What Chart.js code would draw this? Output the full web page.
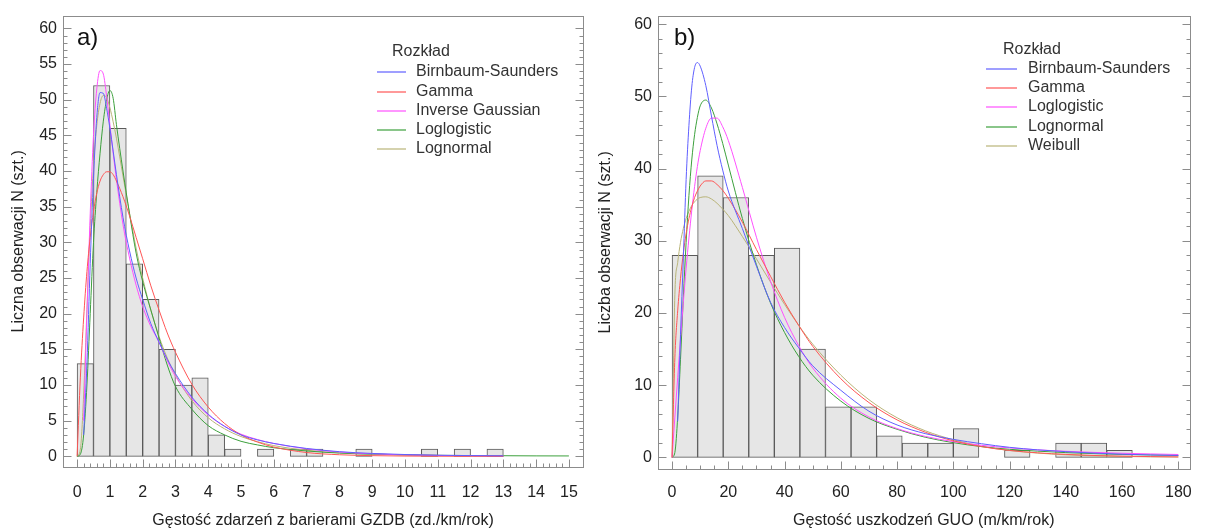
<!DOCTYPE html>
<html>
<head>
<meta charset="utf-8">
<script src="https://cdn.jsdelivr.net/npm/chart.js@4.4.0/dist/chart.umd.min.js"></script>
<style>
  body { margin: 0; background: #fff; width: 1206px; height: 531px; overflow: hidden; position: relative; }
  canvas { position: absolute; top: 0; }
  #chartA { left: 0; }
  #chartB { left: 596px; }
</style>
</head>
<body>
<canvas id="chartA" width="596" height="531"></canvas>
<canvas id="chartB" width="610" height="531"></canvas>
<script>
"use strict";

// ---------- a) GZDB ----------
var binStartA = [0, 0.5, 1, 1.5, 2, 2.5, 3, 3.5, 4, 4.5, 5, 5.5, 6, 6.5, 7, 7.5, 8, 8.5, 9, 9.5, 10, 10.5, 11, 11.5, 12, 12.5];
var binWidthA = 0.5;
var countsA = [13, 52, 46, 27, 22, 15, 10, 11, 3, 1, 0, 1, 0, 1, 1, 0, 0, 1, 0, 0, 0, 1, 0, 1, 0, 1];

var xFitA = [0, 0.1, 0.2, 0.3, 0.4, 0.5, 0.6, 0.7, 0.8, 0.9, 1.0, 1.1, 1.2, 1.4, 1.6, 1.8, 2.0, 2.25, 2.5, 2.75, 3.0, 3.5, 4.0, 4.5, 5, 5.5, 6, 7, 8, 9, 10, 11, 12, 13, 14, 15];
var birnbaumA = [null, null, 3, 13, 27, 39, 47.5, 51, 50.9, 48.8, 46, 42.8, 39.5, 33.5, 28.8, 25, 22, 18.6, 16.0, 13.6, 11.6, 8.3, 5.9, 4.2, 3.0, 2.3, 1.8, 1.1, 0.65, 0.4, 0.25, 0.15, 0.1, 0.06, null, null];
var gammaA = [0, 11.1, 19.4, 25.9, 30.7, 34.3, 36.9, 38.6, 39.5, 39.9, 39.9, 39.5, 38.6, 36.4, 33.7, 30.7, 27.7, 23.9, 20.5, 17.3, 14.6, 10.1, 6.9, 4.6, 3.0, 2.0, 1.3, 0.53, 0.22, 0.09, 0.035, 0.014, 0.005, 0.002, null, null];
var invGaussA = [null, null, 5, 20, 34, 45, 51.5, 54.1, 53.6, 50.5, 46.5, 42.5, 38.8, 32.5, 27.8, 24, 21, 18.2, 16.0, 13.4, 11.2, 8.1, 5.8, 4.2, 3.1, 2.35, 1.8, 1.05, 0.6, 0.35, 0.2, 0.12, 0.07, 0.04, null, null];
var loglogA = [0, 0.3, 3, 10, 20, 30, 37, 42.5, 47, 50, 51.3, 50.2, 46.5, 40, 34, 28.5, 24.5, 20.5, 16.6, 12.8, 9.8, 6.6, 4.3, 3.0, 2.1, 1.6, 1.2, 0.75, 0.45, 0.3, 0.2, 0.14, 0.1, 0.08, 0.06, 0.05];
var lognormA = [0, 1.0, 8.6, 20.6, 32.1, 40.8, 46.4, 49.5, 50.6, 50.3, 48.9, 46.9, 44.6, 39.3, 34.1, 29.2, 25.0, 20.5, 16.8, 13.8, 11.4, 7.8, 5.4, 3.85, 2.77, 2.05, 1.5, 0.85, 0.5, 0.31, 0.19, 0.12, 0.08, 0.05, null, null];
var xTicksA = [0, 1, 2, 3, 4, 5, 6, 7, 8, 9, 10, 11, 12, 13, 14, 15];
var yTicksA = [0, 5, 10, 15, 20, 25, 30, 35, 40, 45, 50, 55, 60];

// ---------- b) GUO ----------
var binStartB = [0, 9.09, 18.18, 27.27, 36.36, 45.45, 54.55, 63.64, 72.73, 81.82, 90.91, 100, 109.09, 118.18, 127.27, 136.36, 145.45, 154.55];
var binWidthB = 9.09;
var countsB = [28, 39, 36, 28, 29, 15, 7, 7, 3, 2, 2, 4, 0, 1, 0, 2, 2, 1];

var xFitB = [0, 1, 2, 3, 4, 5, 6, 7, 8, 9, 10, 12, 14, 16, 18, 20, 25, 30, 35, 40, 45, 50, 60, 70, 80, 90, 100, 110, 120, 130, 140, 150, 160, 170, 180];
var birnbaumB = [null, null, 5, 17, 27.5, 38.5, 46, 51.3, 54, 54.7, 54.2, 51.5, 47.3, 43.2, 39.8, 36.9, 31.7, 26.5, 21.5, 18.0, 15.2, 12.7, 9.3, 6.4, 4.5, 3.3, 2.5, 1.9, 1.4, 1.05, 0.8, 0.6, 0.45, 0.35, 0.28];
var gammaB = [0, 13.8, 20.3, 24.8, 28.3, 31.0, 33.1, 34.7, 36.0, 36.9, 37.6, 38.3, 38.3, 37.8, 37.0, 35.9, 32.6, 28.8, 25.1, 21.5, 18.3, 15.4, 10.9, 7.6, 5.2, 3.5, 2.3, 1.5, 0.97, 0.64, 0.42, 0.27, 0.18, 0.12, 0.08];
var loglogB = [0, 5.6, 11.1, 16.4, 21.5, 26.2, 30.4, 34.2, 37.5, 40.3, 42.5, 45.6, 47.0, 47.0, 45.8, 43.9, 37.4, 30.5, 24.4, 19.4, 15.5, 12.4, 8.2, 5.6, 4.0, 2.92, 2.19, 1.68, 1.32, 1.05, 0.85, 0.70, 0.58, 0.49, 0.41];
var lognormB = [0, 0.7, 5.6, 13.6, 22.1, 29.8, 36.3, 41.2, 44.7, 47.1, 48.7, 49.5, 48.4, 46.2, 43.5, 40.5, 33.1, 26.7, 21.4, 17.3, 14.0, 11.4, 7.8, 5.4, 3.9, 2.8, 2.05, 1.5, 1.13, 0.87, 0.67, 0.53, 0.42, 0.34, 0.28];
var weibullB = [0, 22.6, 27.0, 29.8, 31.7, 33.1, 34.1, 34.9, 35.4, 35.8, 36.0, 36.1, 35.8, 35.2, 34.4, 33.5, 30.6, 27.5, 24.3, 21.2, 18.3, 15.7, 11.4, 8.0, 5.5, 3.7, 2.45, 1.55, 0.96, 0.60, 0.37, 0.22, 0.13, 0.08, 0.05];
var xTicksB = [0, 20, 40, 60, 80, 100, 120, 140, 160, 180];
var yTicksB = [0, 10, 20, 30, 40, 50, 60];

var BLUE = 'rgb(95,95,255)';
var RED = 'rgb(255,85,85)';
var MAGENTA = 'rgb(255,80,255)';
var GREEN = 'rgb(60,160,60)';
var OLIVE = 'rgb(185,180,120)';
var FONT = 'Liberation Sans, Arial, sans-serif';

function bars(starts, width, counts) {
  return starts.map(function (s, i) { return { x: s + width / 2, y: counts[i] }; });
}
function curve(xs, ys) {
  return xs.map(function (x, i) { return { x: x, y: ys[i] }; });
}
function lineSet(label, color, xs, ys) {
  return {
    type: 'line', label: label, data: curve(xs, ys), borderColor: color, borderWidth: 1,
    pointRadius: 0, fill: false, cubicInterpolationMode: 'monotone', spanGaps: false, order: 1
  };
}

// frame, inward ticks, legend and panel letter
var decor = {
  id: 'decor',
  afterDatasetsDraw: function (chart, args, o) {
    var ctx = chart.ctx, a = chart.chartArea;
    var xs = chart.scales.x, ys = chart.scales.y;
    var L = Math.round(a.left) + 0.5, R = Math.round(a.right) + 0.5;
    var T = Math.round(a.top) + 0.5, B = Math.round(a.bottom) + 0.5;
    ctx.save();
    ctx.strokeStyle = '#8c8c8c';
    ctx.lineWidth = 1;
    ctx.strokeRect(L, T, R - L, B - T);
    ctx.beginPath();
    var n = Math.round((o.xTicks[o.xTicks.length - 1] - o.xTicks[0]) / o.xMinor);
    for (var i = 0; i <= n; i++) {
      var v = o.xTicks[0] + i * o.xMinor;
      var major = o.xTicks.some(function (t) { return Math.abs(t - v) < 1e-6; });
      var px = Math.round(xs.getPixelForValue(v)) + 0.5;
      ctx.moveTo(px, B); ctx.lineTo(px, B - (major ? 8 : 4));
    }
    n = Math.round((o.yTicks[o.yTicks.length - 1] - o.yTicks[0]) / o.yMinor);
    for (i = 0; i <= n; i++) {
      var w = o.yTicks[0] + i * o.yMinor;
      var maj = o.yTicks.some(function (t) { return Math.abs(t - w) < 1e-6; });
      var py = Math.round(ys.getPixelForValue(w)) + 0.5;
      var len = maj ? 8 : 4;
      ctx.moveTo(L, py); ctx.lineTo(L + len, py);
      ctx.moveTo(R, py); ctx.lineTo(R - len, py);
    }
    ctx.stroke();

    // legend
    ctx.fillStyle = '#333';
    ctx.textBaseline = 'middle';
    ctx.textAlign = 'left';
    ctx.font = '16px ' + FONT;
    ctx.fillText('Rozkład', o.legend.titleX, o.legend.titleY);
    var lines = chart.data.datasets.filter(function (d) { return d.type === 'line'; });
    lines.forEach(function (d, k) {
      var y = o.legend.rows[k];
      ctx.strokeStyle = d.borderColor;
      ctx.globalAlpha = 0.6;
      ctx.lineWidth = 2;
      ctx.beginPath();
      ctx.moveTo(o.legend.x0, y); ctx.lineTo(o.legend.x1, y);
      ctx.stroke();
      ctx.globalAlpha = 1;
      ctx.fillText(d.label, o.legend.textX, y);
    });

    ctx.font = '24px ' + FONT;
    ctx.fillStyle = '#111';
    ctx.fillText(o.letter, o.letterX, o.letterY);
    ctx.restore();
  }
};

function makeChart(id, cfg) {
  return new Chart(document.getElementById(id), {
    type: 'line',
    data: {
      datasets: [{
        type: 'bar', label: 'hist', data: bars(cfg.binStart, cfg.binWidth, cfg.counts),
        backgroundColor: '#e6e6e6', borderColor: '#5a5a5a', borderWidth: 1, borderSkipped: false,
        barPercentage: 1, categoryPercentage: 1, grouped: false, order: 10
      }].concat(cfg.lines)
    },
    options: {
      responsive: false,
      animation: false,
      layout: { padding: cfg.padding },
      plugins: {
        legend: { display: false },
        tooltip: { enabled: false },
        decor: cfg.decor
      },
      scales: {
        x: {
          type: 'linear', min: cfg.xMin, max: cfg.xMax, offset: false,
          grid: { display: false, drawTicks: false, offset: false },
          border: { display: false },
          afterBuildTicks: function (s) { s.ticks = cfg.decor.xTicks.map(function (v) { return { value: v }; }); },
          afterFit: function (s) { s.height = cfg.xHeight; },
          ticks: { autoSkip: false, maxRotation: 0, padding: cfg.xPad, color: '#222', font: { family: FONT, size: 16 } },
          title: { display: true, text: cfg.xTitle, color: '#222', font: { family: FONT, size: 16 }, padding: { top: 0, bottom: 1 } }
        },
        y: {
          type: 'linear', min: cfg.yMin, max: cfg.yMax, beginAtZero: false,
          grid: { display: false, drawTicks: false },
          border: { display: false },
          afterBuildTicks: function (s) { s.ticks = cfg.decor.yTicks.map(function (v) { return { value: v }; }); },
          afterFit: function (s) { s.width = cfg.yWidth; },
          ticks: { autoSkip: false, padding: 6, color: '#222', font: { family: FONT, size: 16 } },
          title: { display: true, text: cfg.yTitle, color: '#222', font: { family: FONT, size: 16 }, padding: { top: cfg.yTitlePad, bottom: 0 } }
        }
      }
    },
    plugins: [decor]
  });
}

makeChart('chartA', {
  binStart: binStartA, binWidth: binWidthA, counts: countsA,
  lines: [
    lineSet('Birnbaum-Saunders', BLUE, xFitA, birnbaumA),
    lineSet('Gamma', RED, xFitA, gammaA),
    lineSet('Inverse Gaussian', MAGENTA, xFitA, invGaussA),
    lineSet('Loglogistic', GREEN, xFitA, loglogA),
    lineSet('Lognormal', OLIVE, xFitA, lognormA)
  ],
  padding: { top: 15, right: 13, left: 0, bottom: 0 },
  xMin: -0.43, xMax: 15.43, yMin: -1.5, yMax: 61.8,
  xHeight: 64, yWidth: 63, xPad: 16, yTitlePad: 9,
  xTitle: 'Gęstość zdarzeń z barierami GZDB (zd./km/rok)',
  yTitle: 'Liczna obserwacji N (szt.)',
  decor: {
    xTicks: xTicksA, yTicks: yTicksA, xMinor: 0.2, yMinor: 1,
    letter: 'a)', letterX: 77, letterY: 38,
    legend: { titleX: 392, titleY: 52, x0: 377, x1: 406, textX: 416, rows: [72, 92, 111, 130, 149] }
  }
});

makeChart('chartB', {
  binStart: binStartB, binWidth: binWidthB, counts: countsB,
  lines: [
    lineSet('Birnbaum-Saunders', BLUE, xFitB, birnbaumB),
    lineSet('Gamma', RED, xFitB, gammaB),
    lineSet('Loglogistic', MAGENTA, xFitB, loglogB),
    lineSet('Lognormal', GREEN, xFitB, lognormB),
    lineSet('Weibull', OLIVE, xFitB, weibullB)
  ],
  padding: { top: 13, right: 14, left: 0, bottom: 0 },
  xMin: -5, xMax: 184, yMin: -1.6, yMax: 61.2,
  xHeight: 62, yWidth: 62, xPad: 14, yTitlePad: 0,
  xTitle: 'Gęstość uszkodzeń GUO (m/km/rok)',
  yTitle: 'Liczba obserwacji N (szt.)',
  decor: {
    xTicks: xTicksB, yTicks: yTicksB, xMinor: 5, yMinor: 2,
    letter: 'b)', letterX: 78, letterY: 38,
    legend: { titleX: 407, titleY: 50, x0: 390, x1: 421, textX: 432, rows: [69, 88, 107, 127, 146] }
  }
});
</script>
</body>
</html>
